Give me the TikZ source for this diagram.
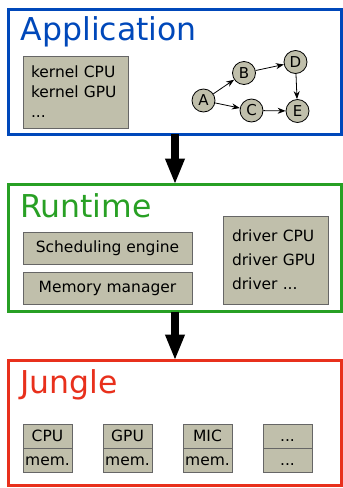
\documentclass[tikz,border=0pt]{standalone}
\usepackage{fontspec}
\setmainfont{DejaVu Sans}
\usepackage{tikz}
\usetikzlibrary{arrows,arrows.meta,positioning}
\usepackage{xcolor}

\definecolor{appblue}{RGB}{0,72,186}
\definecolor{rtgreen}{RGB}{40,160,36}
\definecolor{jred}{RGB}{232,48,28}
\definecolor{boxgray}{RGB}{192,191,171}
\newcommand{\moredev}{...}

\tikzset{
  layer/.style={draw=#1, line width=3pt, outer sep=0pt, inner sep=0pt, anchor=north west, minimum width=333pt},
  title/.style={anchor=base west, inner sep=0pt, font=\fontsize{31.5}{31.5}\selectfont},
  unit/.style={draw=black!60, fill=boxgray, line width=0.8pt, outer sep=0pt, inner sep=0pt, font=\fontsize{15.5}{20}\selectfont},
  dev/.style={unit, minimum width=49pt, minimum height=24pt, text height=11.3pt, text depth=0pt},
  task/.style={circle, draw=black, fill=boxgray, line width=0.8pt, minimum size=23pt, inner sep=0pt, font=\fontsize{15}{15}\selectfont},
  dep/.style={-{Stealth[length=8pt,width=6pt]}, line width=0.8pt},
  flow/.style={-{Triangle[width=18pt,length=26pt]}, line width=7.5pt}
}

\begin{document}
\begin{tikzpicture}[x=1pt,y=-1pt]
\useasboundingbox (0,0) rectangle (343,488);

% application
\node[layer=appblue, minimum height=125pt] (app) at (8.5,9) {};
\node[title, text=appblue] (apptitle) at (20.5,40.5) {Application};
\node[unit, anchor=north west, align=left, text width=89pt, inner xsep=8pt, minimum height=72pt] (kernels) at (23,56) {kernel CPU\\kernel GPU\\...};
\node[task] (A) at (203.5,100.5) {A};
\node[task] (B) at (244,73) {B};
\node[task] (C) at (251.5,110.5) {C};
\node[task] (D) at (295.5,62) {D};
\node[task] (E) at (297.5,111) {E};
\foreach \a/\b in {A/B,A/C,B/D,D/E,C/E}
    \draw[dep] (\a) -- (\b);

% runtime
\node[layer=rtgreen, minimum height=127pt] (rt) at (8.5,184.5) {};
\node[title, text=rtgreen] (rttitle) at (20,217) {Runtime};
\node[unit, anchor=north west, minimum width=169pt, minimum height=32pt] (sched) at (23,232) {Scheduling engine};
\node[unit, minimum width=169pt, minimum height=32pt, below=8pt of sched] (memmgr) {Memory manager};
\node[unit, anchor=north west, align=left, text width=87pt, inner xsep=9pt, minimum height=88pt, font=\fontsize{15.5}{24}\selectfont] (drivers) at (223,216) {driver CPU\\driver GPU\\driver ...};

% jungle
\node[layer=jred, minimum height=124.5pt] (jungle) at (8.5,360.5) {};
\node[title, text=jred] (jtitle) at (20,393) {Jungle};
\foreach \top/\bot [count=\i] in {CPU/mem.,GPU/mem.,MIC/mem.,\moredev/\moredev} {
    \node[dev] (dev\i) at ({47.5+80*(\i-1)},436) {\top};
    \node[dev, below=0pt of dev\i] (mem\i) {\bot};
}

\draw[flow] (app.south) -- (rt.north);
\draw[flow] (rt.south) -- (jungle.north);
\end{tikzpicture}
\end{document}
